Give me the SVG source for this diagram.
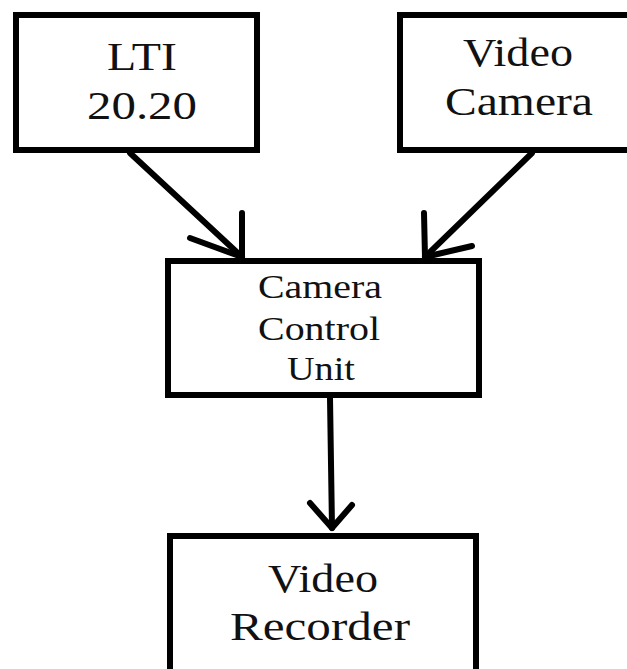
<svg xmlns="http://www.w3.org/2000/svg" width="627" height="669" viewBox="0 0 627 669">
<defs>
<style>
.box{fill:#fff;stroke:#000;stroke-width:6}
.t{font-family:"Liberation Serif","Times New Roman",serif;fill:#111;text-anchor:middle}
.big{font-size:41px}
.small{font-size:34px}
.c{fill:none;stroke:#000;stroke-width:6;stroke-linecap:round;stroke-linejoin:round}
</style>
</defs>
<rect width="627" height="669" fill="#fff"/>
<g id="connectors">
<polyline class="c" points="130,153 242,257"/>
<polyline class="c" points="242,213 242,257 190,238"/>
<polyline class="c" points="532,153 425,257"/>
<polyline class="c" points="424,213 425,257 472,246"/>
<polyline class="c" points="330,398 332,528"/>
<polyline class="c" points="310,503 332,528 352,505"/>
</g>
<g id="lti">
<rect class="box" x="16" y="15" width="241" height="135"/>
<text class="t big" x="142" y="70" textLength="70" lengthAdjust="spacingAndGlyphs">LTI</text>
<text class="t big" x="142" y="119" textLength="110" lengthAdjust="spacingAndGlyphs">20.20</text>
</g>
<g id="videocamera">
<rect class="box" x="400" y="15" width="240" height="135"/>
<text class="t big" x="518" y="66" textLength="110" lengthAdjust="spacingAndGlyphs">Video</text>
<text class="t big" x="519" y="115" textLength="148" lengthAdjust="spacingAndGlyphs">Camera</text>
</g>
<g id="ccu">
<rect class="box" x="168" y="261" width="311" height="134"/>
<text class="t small" x="320" y="298" textLength="124" lengthAdjust="spacingAndGlyphs">Camera</text>
<text class="t small" x="319" y="340" textLength="122" lengthAdjust="spacingAndGlyphs">Control</text>
<text class="t small" x="321" y="380" textLength="68" lengthAdjust="spacingAndGlyphs">Unit</text>
</g>
<g id="recorder">
<rect class="box" x="170" y="536" width="306" height="150"/>
<text class="t big" x="323" y="592" textLength="110" lengthAdjust="spacingAndGlyphs">Video</text>
<text class="t big" x="320" y="640" textLength="180" lengthAdjust="spacingAndGlyphs">Recorder</text>
</g>
</svg>
